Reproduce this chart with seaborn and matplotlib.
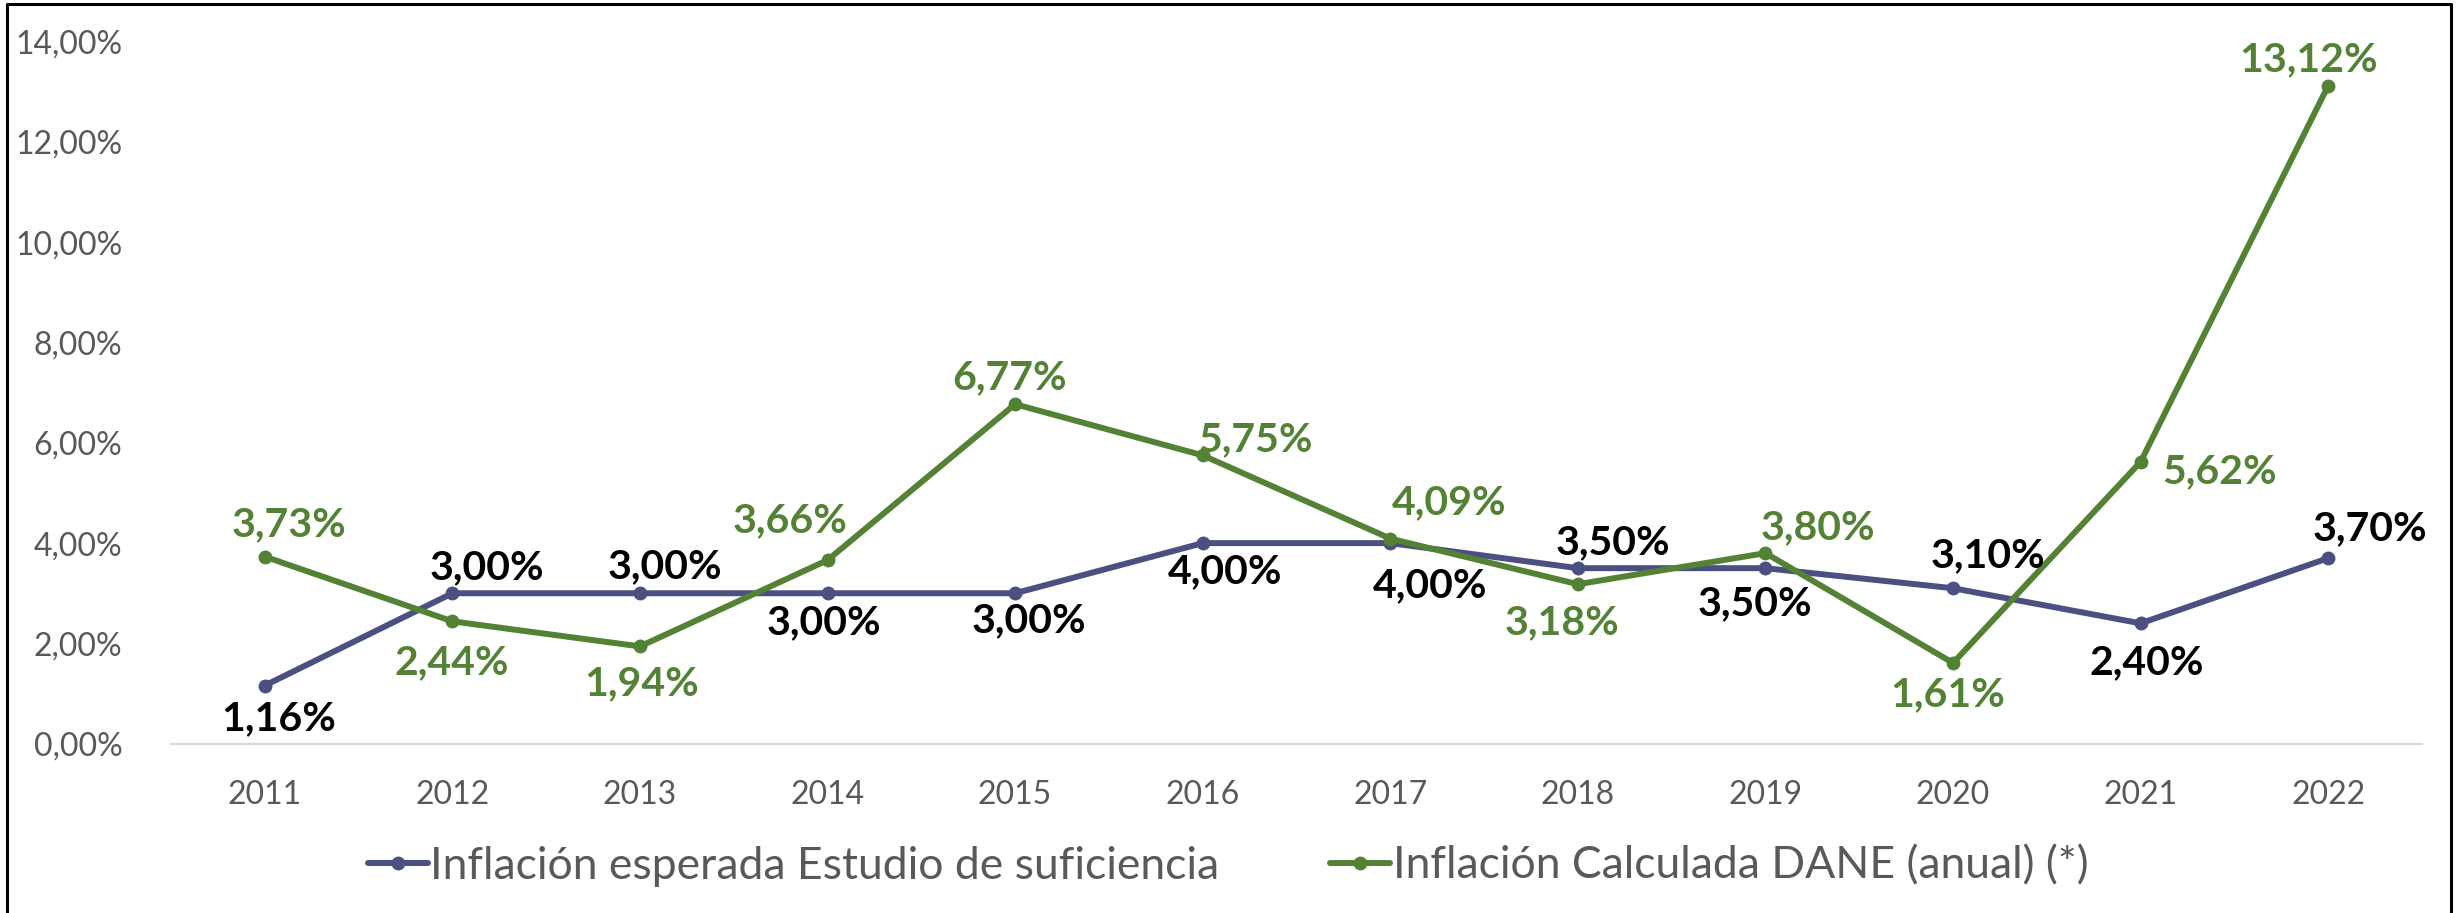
import matplotlib
matplotlib.use("Agg")
import matplotlib.pyplot as plt
import seaborn as sns
import pandas as pd
from matplotlib.lines import Line2D

years = ["2011", "2012", "2013", "2014", "2015", "2016", "2017", "2018", "2019", "2020", "2021", "2022"]
esperada = [1.16, 3.00, 3.00, 3.00, 3.00, 4.00, 4.00, 3.50, 3.50, 3.10, 2.40, 3.70]
dane = [3.73, 2.44, 1.94, 3.66, 6.77, 5.75, 4.09, 3.18, 3.80, 1.61, 5.62, 13.12]
name_esp = "Inflación esperada Estudio de suficiencia"
name_dane = "Inflación Calculada DANE (anual) (*)"
yticks = [0, 2, 4, 6, 8, 10, 12, 14]

# label offsets in pixels (dx, dy with dy positive = downwards)
off_esp = [(14, 33), (35, -26), (25, -27), (-4, 29), (14, 27), (22, 29),
           (40, 43), (35, -25), (-11, 36), (35, -33), (6, 39), (42, -29)]
off_dane = [(24, -32), (-1, 41), (2, 37), (-37, -39), (-6, -26), (53, -16),
            (59, -36), (-16, 38), (52, -25), (-5, 32), (79, 10), (-20, -26)]

BLUE = "#4A5081"
GREEN = "#548235"
GREY = "#595959"

sns.set_theme(style="white")
plt.rcParams["font.family"] = ["Lato", "DejaVu Sans"]

df = pd.DataFrame({"year": years * 2,
                   "value": esperada + dane,
                   "serie": [name_esp] * len(years) + [name_dane] * len(years)})

fig = plt.figure(figsize=(24.56, 9.13), dpi=100)
ax = fig.add_axes([171 / 2456, 1 - 743.7 / 913, (2422 - 171) / 2456, (743.7 - 41.6) / 913])

sns.lineplot(data=df, x="year", y="value", hue="serie", palette=[BLUE, GREEN],
             marker="o", markersize=10, markeredgewidth=0, linewidth=4.3,
             sort=False, legend=False, ax=ax)

ax.set_xlim(-0.5, len(years) - 0.5)
ax.set_ylim(0, 14)
ax.set_yticks(yticks)
ax.set_yticklabels([f"{v:.2f}".replace(".", ",") + "%" for v in yticks])
ax.set_xlabel("")
ax.set_ylabel("")
for s in ["top", "right", "left"]:
    ax.spines[s].set_visible(False)
ax.spines["bottom"].set_color("#D9D9D9")
ax.spines["bottom"].set_linewidth(1.6)
ax.tick_params(axis="y", length=0, pad=35, labelsize=23, labelcolor=GREY)
ax.tick_params(axis="x", length=0, pad=26, labelsize=23, labelcolor=GREY)
ax.grid(False)

def fmt(v):
    return f"{v:.2f}".replace(".", ",") + "%"

for i, v in enumerate(esperada):
    dx, dy = off_esp[i]
    ax.annotate(fmt(v), (i, v), xytext=(dx, -dy), textcoords="offset pixels",
                ha="center", va="center", fontsize=29.5, fontweight="bold", color="black")
for i, v in enumerate(dane):
    dx, dy = off_dane[i]
    ax.annotate(fmt(v), (i, v), xytext=(dx, -dy), textcoords="offset pixels",
                ha="center", va="center", fontsize=29.5, fontweight="bold", color=GREEN)

handles = [Line2D([], [], color=BLUE, lw=4.3, marker="o", markersize=10, markeredgewidth=0),
           Line2D([], [], color=GREEN, lw=4.3, marker="o", markersize=10, markeredgewidth=0)]
fig.legend(handles, [name_esp, name_dane], loc="center", bbox_to_anchor=(0.5, 1 - 866 / 913),
           ncol=2, frameon=False, fontsize=32, labelcolor=GREY, handlelength=1.35,
           handletextpad=0.05, columnspacing=2.5)

# outer frame (left, top, right)
x0, x1, y1 = 7 / 2456, 2451 / 2456, 1 - 4 / 913
fig.add_artist(Line2D([x0, x0, x1, x1], [0, y1, y1, 0], transform=fig.transFigure,
                      color="black", lw=2.2))

fig.savefig("out.png", dpi=100)
